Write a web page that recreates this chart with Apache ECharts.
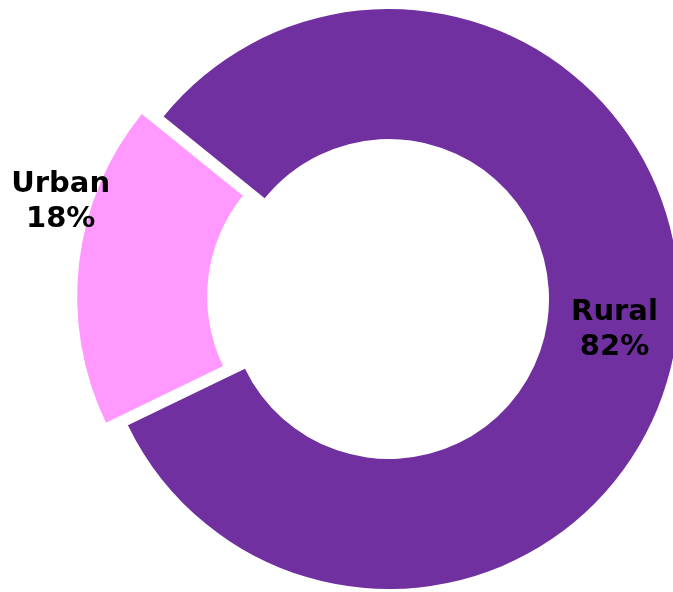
<!DOCTYPE html>
<html>
<head>
<meta charset="utf-8">
<script src="https://cdn.jsdelivr.net/npm/echarts@6/dist/echarts.min.js"></script>
<style>
html,body{margin:0;padding:0;background:#fff;}
#chart{width:673px;height:592px;}
</style>
</head>
<body>
<div id="chart"></div>
<script>
const categories = ['Rural', 'Urban'];
const values = [82, 18];
const colors = ['#7030A0', '#FF99FF'];

const chart = echarts.init(document.getElementById('chart'), null, {renderer: 'canvas'});
const data = categories.map((c, i) => ({
  name: c,
  value: values[i],
  selected: c === 'Urban',
  itemStyle: {color: colors[i]}
}));
chart.setOption({
  animation: false,
  series: [{
    type: 'pie',
    center: [389, 299],
    radius: [160, 290],
    startAngle: 141,
    clockwise: true,
    selectedMode: 'single',
    selectedOffset: 22,
    avoidLabelOverlap: false,
    emphasis: {disabled: true},
    label: {
      show: true,
      position: 'inside',
      formatter: '{b}\n{d}%',
      color: '#000',
      fontFamily: 'DejaVu Sans',
      fontWeight: 'bold',
      fontSize: 29,
      lineHeight: 35,
      align: 'center'
    },
    labelLine: {show: false},
    labelLayout: function (p) {
      if (p.dataIndex === 1) {
        return {dx: -80, dy: -68};
      }
      return {dx: -1, dy: 5};
    },
    data: data
  }]
});
</script>
</body>
</html>
